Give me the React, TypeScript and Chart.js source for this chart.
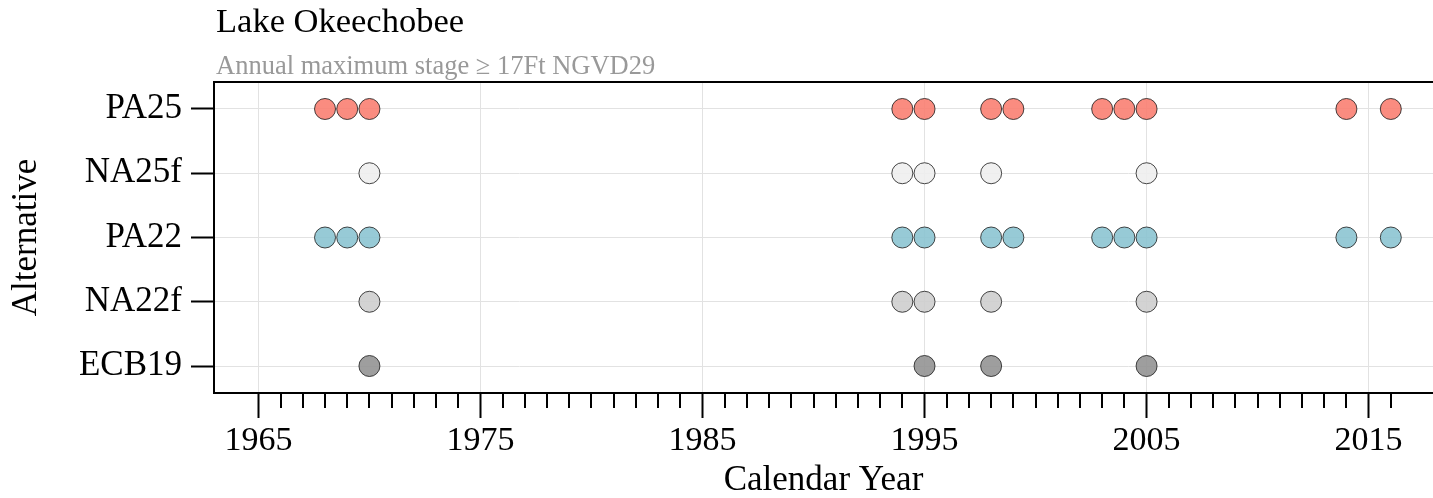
import React, { useEffect, useRef } from 'react';
import { Chart, registerables } from 'chart.js';

Chart.register(...registerables);

// ---- data ----
const categories = ['PA25', 'NA25f', 'PA22', 'NA22f', 'ECB19'];
const yearsPA25 = [1968, 1969, 1970, 1994, 1995, 1998, 1999, 2003, 2004, 2005, 2014, 2016];
const yearsNA25f = [1970, 1994, 1995, 1998, 2005];
const yearsPA22 = [1968, 1969, 1970, 1994, 1995, 1998, 1999, 2003, 2004, 2005, 2014, 2016];
const yearsNA22f = [1970, 1994, 1995, 1998, 2005];
const yearsECB19 = [1970, 1995, 1998, 2005];
const seriesYears = [yearsPA25, yearsNA25f, yearsPA22, yearsNA22f, yearsECB19];
const fillColors = [
  'rgba(250,128,114,0.9)',
  'rgba(238,238,238,0.9)',
  'rgba(140,196,209,0.9)',
  'rgba(206,206,206,0.9)',
  'rgba(148,148,148,0.9)',
];
const majorYears = [1965, 1975, 1985, 1995, 2005, 2015];
const firstTickYear = 1965;
const lastTickYear = 2016;
const xMin = 1963;
const xMax = 2017.9;
const titleText = 'Lake Okeechobee';
const subtitleText = 'Annual maximum stage \u2265 17Ft NGVD29';
const xTitle = 'Calendar Year';
const yTitle = 'Alternative';

const FONT = '"Liberation Serif", "Times New Roman", serif';
const GRID = '#e2e2e2';

const decorPlugin = {
  id: 'decor',
  afterDraw(chart: any) {
    const { ctx, chartArea } = chart;
    const xs = chart.scales.x;
    ctx.save();
    ctx.strokeStyle = '#000';
    ctx.lineWidth = 2;
    ctx.beginPath();
    ctx.moveTo(chartArea.left - 1, chartArea.top);
    ctx.lineTo(chartArea.right, chartArea.top);
    ctx.stroke();
    ctx.beginPath();
    for (const t of xs.ticks) {
      if (majorYears.includes(t.value)) continue;
      const px = Math.round(xs.getPixelForValue(t.value));
      ctx.moveTo(px, chartArea.bottom);
      ctx.lineTo(px, chartArea.bottom + 15);
    }
    ctx.stroke();
    ctx.textAlign = 'left';
    ctx.textBaseline = 'alphabetic';
    ctx.fillStyle = '#000';
    ctx.font = `34.5px ${FONT}`;
    ctx.fillText(titleText, chartArea.left + 2, 32);
    ctx.fillStyle = '#999999';
    ctx.font = `26.5px ${FONT}`;
    ctx.fillText(subtitleText, chartArea.left + 2, 74);
    ctx.restore();
  },
};

export default function App() {
  const ref = useRef<HTMLCanvasElement>(null);
  useEffect(() => {
    if (!ref.current) return;
    const datasets = categories.map((cat, i) => ({
      label: cat,
      data: seriesYears[i].map((yr) => ({ x: yr, y: i })),
      backgroundColor: fillColors[i],
      borderColor: 'rgba(25,25,25,0.8)',
      borderWidth: 1,
      pointRadius: 10.5,
      pointHoverRadius: 10.5,
    }));
    const chart = new Chart(ref.current, {
      type: 'scatter',
      data: { datasets },
      options: {
        animation: false,
        responsive: false,
        devicePixelRatio: 1,
        events: [],
        layout: { autoPadding: false, padding: { top: 82, left: 0, right: 0, bottom: 0 } },
        plugins: { legend: { display: false }, tooltip: { enabled: false }, title: { display: false } },
        scales: {
          x: {
            type: 'linear',
            position: 'bottom',
            min: xMin,
            max: xMax,
            afterBuildTicks: (scale: any) => {
              const t = [];
              for (let y = firstTickYear; y <= lastTickYear; y++) t.push({ value: y });
              scale.ticks = t;
            },
            afterFit: (scale: any) => {
              scale.height = 105;
              scale.paddingLeft = 0;
              scale.paddingRight = 0;
            },
            ticks: {
              autoSkip: false,
              maxRotation: 0,
              minRotation: 0,
              padding: 3,
              color: '#000',
              font: { family: FONT, size: 34 },
              callback: (v: any) => (majorYears.includes(v) ? String(v) : ''),
            },
            grid: {
              color: (c: any) => (c.tick && majorYears.includes(c.tick.value) ? GRID : 'rgba(0,0,0,0)'),
              tickColor: (c: any) => (c.tick && majorYears.includes(c.tick.value) ? '#000' : 'rgba(0,0,0,0)'),
              lineWidth: 1,
              tickLength: 25,
              tickWidth: 2,
            },
            border: { display: true, color: '#000', width: 2 },
            title: {
              display: true,
              text: xTitle,
              color: '#000',
              font: { family: FONT, size: 35, lineHeight: 1 },
              padding: { top: 0, bottom: 0 },
            },
          },
          y: {
            type: 'linear',
            position: 'left',
            reverse: true,
            min: -0.42,
            max: 4.42,
            afterBuildTicks: (scale: any) => {
              scale.ticks = categories.map((_, i) => ({ value: i }));
            },
            afterFit: (scale: any) => {
              scale.width = 214;
              scale.paddingTop = 0;
              scale.paddingBottom = 0;
            },
            ticks: {
              padding: 9,
              color: '#000',
              font: { family: FONT, size: 35 },
              callback: (v: any) => categories[v] ?? '',
            },
            grid: {
              color: GRID,
              tickColor: '#000',
              lineWidth: 1,
              tickLength: 23,
              tickWidth: 2,
            },
            border: { display: true, color: '#000', width: 2 },
            title: {
              display: true,
              text: yTitle,
              color: '#000',
              font: { family: FONT, size: 35, lineHeight: 1 },
              padding: { top: 9, bottom: 0 },
            },
          },
        },
      },
      plugins: [decorPlugin],
    } as any);
    return () => chart.destroy();
  }, []);
  return (
    <div style={{ position: 'fixed', left: 0, top: 0, width: 1433, height: 498, background: '#fff' }}>
      <canvas ref={ref} width={1433} height={498} style={{ width: 1433, height: 498, display: 'block' }} />
    </div>
  );
}
